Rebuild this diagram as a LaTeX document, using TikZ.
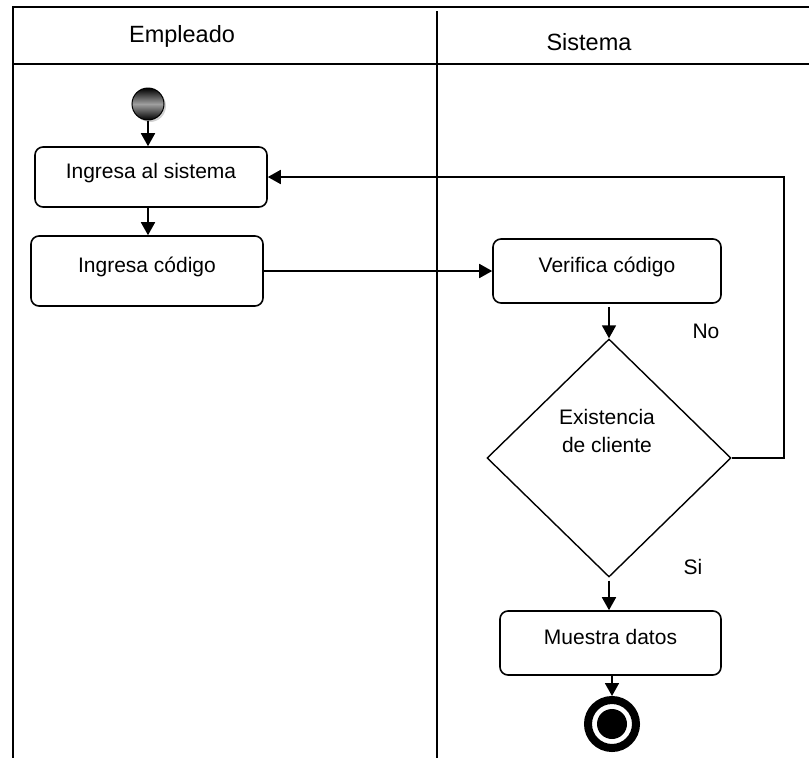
\documentclass[tikz,border=0pt]{standalone}
\usepackage{fontspec}
\setmainfont{Liberation Sans}
\usetikzlibrary{shapes.geometric,arrows.meta,shadows}

\begin{document}
\begin{tikzpicture}[
  x=1pt, y=-1pt,
  >={Triangle[length=13pt,width=14pt]},
  lane/.style={line width=2pt},
  lanehead/.style={font=\fontsize{23.5}{28}\selectfont},
  actbox/.style={
    draw, rounded corners=8pt, line width=1.6pt,
    inner sep=0pt, align=center,
    text height=16pt, text depth=14pt,
    font=\fontsize{21}{28}\selectfont
  },
  decision/.style={
    draw, diamond, line width=1.4pt, inner sep=0pt,
    minimum width=244pt, minimum height=238pt
  },
  startnode/.style={
    circle, draw, line width=1pt, minimum size=32pt, inner sep=0pt,
    top color=black, bottom color=black, middle color=gray!75,
    drop shadow={shadow xshift=2pt, shadow yshift=-2pt, fill=gray!70}
  },
  endnode/.style={
    circle, draw=black, line width=8pt, fill=white,
    minimum size=48pt, inner sep=0pt,
    path picture={\fill[black] (path picture bounding box.center) circle (15pt);}
  },
  flow/.style={->, line width=1.8pt},
  guard/.style={font=\fontsize{21}{28}\selectfont}
]
  \useasboundingbox (0,0) rectangle (809,758);

  % Swimlanes
  \draw[lane] (13,758) -- (13,7) -- (809,7);
  \draw[lane] (13,64) -- (809,64);
  \draw[lane] (437,11) -- (437,758);
  \node[lanehead] (h1) at (182,36) {Empleado};
  \node[lanehead] (h2) at (589,42) {Sistema};

  % Empleado
  \node[startnode] (ini) at (148,104) {};
  \node[actbox, minimum width=232pt, minimum height=60pt] (s1) at (151,177) {Ingresa al sistema};
  \node[actbox, minimum width=232pt, minimum height=70pt] (s2) at (147,271) {Ingresa código};

  % Sistema
  \node[actbox, minimum width=228pt, minimum height=64pt] (v) at (607,271) {Verifica código};
  \node[decision] (dec) at (609,458) {};
  \node[align=center, font=\fontsize{21}{28}\selectfont] (dectext) at (607,431) {Existencia\\de cliente};
  \node[actbox, minimum width=221pt, minimum height=64pt] (m) at (610.5,643) {Muestra datos};
  \node[endnode] (fin) at (612,724) {};

  \node[guard] (no) at (706,331) {No};
  \node[guard] (si) at (693,567) {Si};

  \draw[flow] (ini) -- (ini |- s1.north);
  \draw[flow] (ini |- s1.south) -- (ini |- s2.north);
  \draw[flow] (s2.east) -- (v.west);
  \draw[flow, shorten <=3pt] (dec.north |- v.south) -- (dec.north);
  \draw[flow] (dec.east) -- ++(52,0) |- (s1.east);
  \draw[flow, shorten <=3pt] (dec.south) -- (dec.south |- m.north);
  \draw[flow] (fin.north |- m.south) -- (fin.north);

\end{tikzpicture}
\end{document}
